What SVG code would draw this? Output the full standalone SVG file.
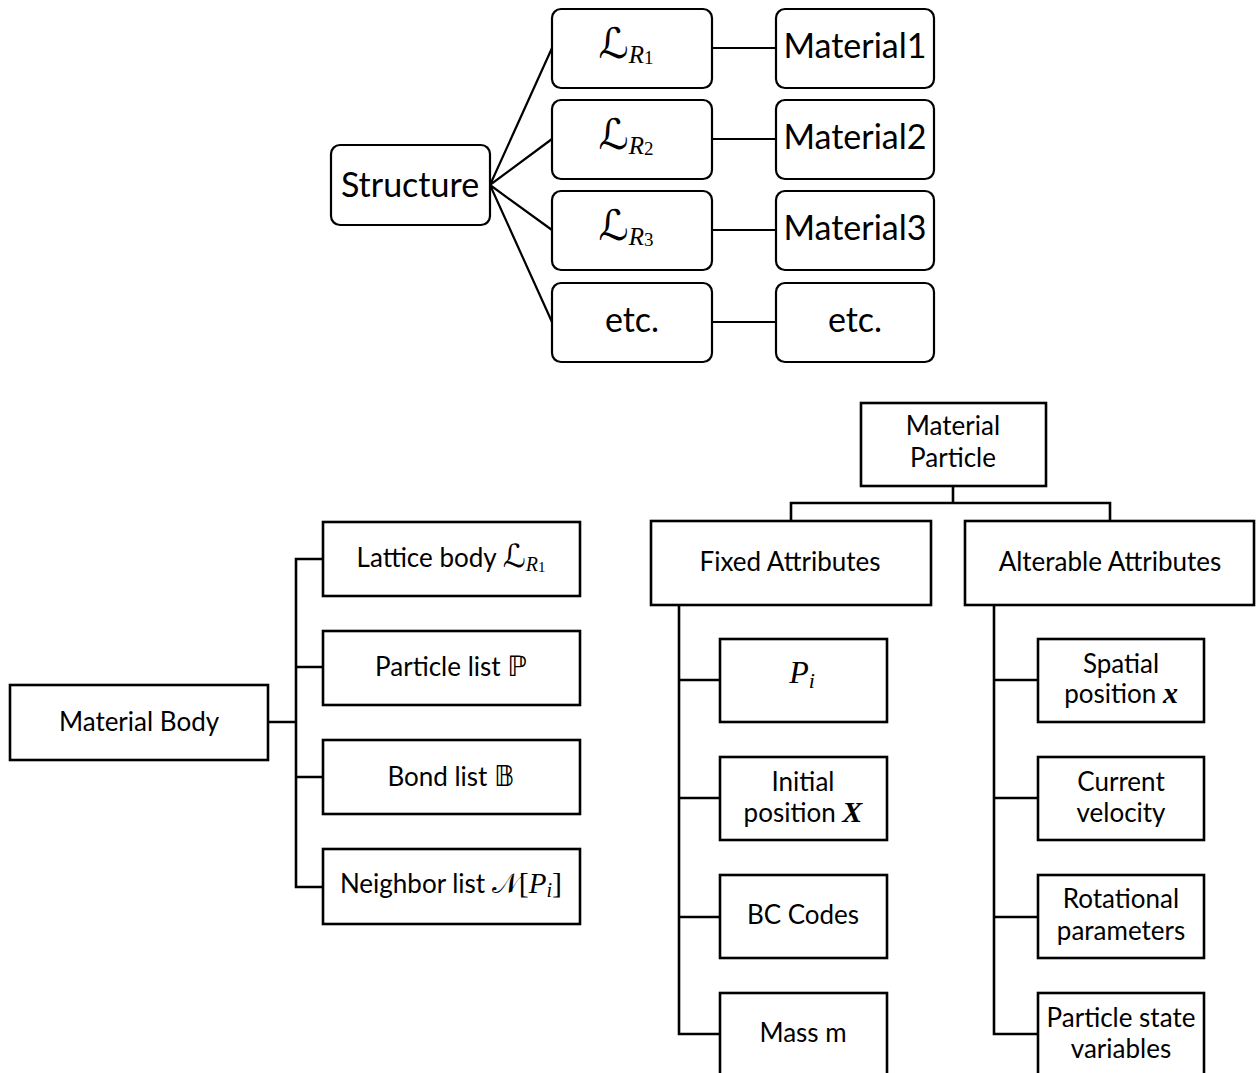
<svg xmlns="http://www.w3.org/2000/svg" width="1256" height="1073" viewBox="0 0 1256 1073">
  <style>
    .rbox { fill: #fff; stroke: #000; stroke-width: 2.2; }
    .box { fill: #fff; stroke: #000; stroke-width: 2.6; }
    .wire { fill: none; stroke: #000; stroke-width: 2.2; stroke-linecap: square; }
    .wire2 { fill: none; stroke: #000; stroke-width: 2.6; stroke-linecap: square; }
    .big { font-family: Lato, "Liberation Sans", sans-serif; font-size: 34px; fill: #000; text-anchor: middle; }
    .txt { font-family: Lato, "Liberation Sans", sans-serif; font-size: 26px; fill: #000; text-anchor: middle; }
    .scr { font-family: "DejaVu Serif", "DejaVu Sans", serif; }
    .mi { font-family: "Liberation Serif", "DejaVu Serif", serif; font-style: italic; }
    .mn { font-family: "Liberation Serif", "DejaVu Serif", serif; }
    .mb { font-family: "Liberation Serif", "DejaVu Serif", serif; font-style: italic; font-weight: bold; }
    .ds { font-family: "DejaVu Sans", "DejaVu Serif", sans-serif; }
  </style>
  <rect width="1256" height="1073" fill="#fff"/>

  <!-- connectors -->
  <g id="connectors">
    <!-- structure fan-out -->
    <path class="wire" d="M490,185 L552,48 M490,185 L552,139 M490,185 L552,230 M490,185 L552,322"/>
    <!-- lattice to material -->
    <path class="wire" d="M712,48 H776 M712,139 H776 M712,230 H776 M712,322 H776"/>
    <!-- material body tree -->
    <path class="wire2" d="M268,722 H296 M296,559 V887 M296,559 H323 M296,667 H323 M296,777 H323 M296,887 H323"/>
    <!-- material particle tree -->
    <path class="wire2" d="M953,486 V503 M791,503 H1110 M791,503 V521 M1110,503 V521"/>
    <path class="wire2" d="M679,605 V1034 M679,680 H720 M679,798 H720 M679,917 H720 M679,1034 H720"/>
    <path class="wire2" d="M994,605 V1034 M994,680 H1038 M994,798 H1038 M994,917 H1038 M994,1034 H1038"/>
  </g>

  <!-- upper hierarchy -->
  <g id="structure">
    <rect class="rbox" x="331" y="145" width="159" height="80" rx="9"/>
    <text class="big" x="410" y="197">Structure</text>
  </g>
  <g id="lattice-r1">
    <rect class="rbox" x="552" y="9" width="160" height="79" rx="9"/>
    <text class="big" x="626" y="58"><tspan class="scr" font-size="42">ℒ</tspan><tspan class="mi" font-size="25" dy="5">R</tspan><tspan class="mn" font-size="19" dy="1">1</tspan></text>
  </g>
  <g id="lattice-r2">
    <rect class="rbox" x="552" y="100" width="160" height="79" rx="9"/>
    <text class="big" x="626" y="149"><tspan class="scr" font-size="42">ℒ</tspan><tspan class="mi" font-size="25" dy="5">R</tspan><tspan class="mn" font-size="19" dy="1">2</tspan></text>
  </g>
  <g id="lattice-r3">
    <rect class="rbox" x="552" y="191" width="160" height="79" rx="9"/>
    <text class="big" x="626" y="240"><tspan class="scr" font-size="42">ℒ</tspan><tspan class="mi" font-size="25" dy="5">R</tspan><tspan class="mn" font-size="19" dy="1">3</tspan></text>
  </g>
  <g id="lattice-etc">
    <rect class="rbox" x="552" y="283" width="160" height="79" rx="9"/>
    <text class="big" x="632" y="332">etc.</text>
  </g>
  <g id="material1">
    <rect class="rbox" x="776" y="9" width="158" height="79" rx="9"/>
    <text class="big" x="855" y="58">Material1</text>
  </g>
  <g id="material2">
    <rect class="rbox" x="776" y="100" width="158" height="79" rx="9"/>
    <text class="big" x="855" y="149">Material2</text>
  </g>
  <g id="material3">
    <rect class="rbox" x="776" y="191" width="158" height="79" rx="9"/>
    <text class="big" x="855" y="240">Material3</text>
  </g>
  <g id="material-etc">
    <rect class="rbox" x="776" y="283" width="158" height="79" rx="9"/>
    <text class="big" x="855" y="332">etc.</text>
  </g>

  <!-- material body -->
  <g id="material-body">
    <rect class="box" x="10" y="685" width="258" height="75"/>
    <text class="txt" x="139" y="731">Material Body</text>
  </g>
  <g id="lattice-body">
    <rect class="box" x="323" y="522" width="257" height="74"/>
    <text class="txt" x="451" y="567">Lattice body <tspan class="scr" font-size="32">ℒ</tspan><tspan class="mi" font-size="20" dy="4">R</tspan><tspan class="mn" font-size="15" dy="1">1</tspan></text>
  </g>
  <g id="particle-list">
    <rect class="box" x="323" y="631" width="257" height="74"/>
    <text class="txt" x="451" y="676">Particle list <tspan class="ds" font-size="28">ℙ</tspan></text>
  </g>
  <g id="bond-list">
    <rect class="box" x="323" y="740" width="257" height="74"/>
    <text class="txt" x="451" y="786">Bond list <tspan class="ds" font-size="28">𝔹</tspan></text>
  </g>
  <g id="neighbor-list">
    <rect class="box" x="323" y="849" width="257" height="75"/>
    <text class="txt" x="451" y="893">Neighbor list <tspan class="scr" font-size="28">𝒩</tspan><tspan class="mn" font-size="30">[</tspan><tspan class="mi" font-size="29">P</tspan><tspan class="mi" font-size="20" dy="4">i</tspan><tspan class="mn" font-size="30" dy="-4">]</tspan></text>
  </g>

  <!-- material particle -->
  <g id="material-particle">
    <rect class="box" x="861" y="403" width="185" height="83"/>
    <text class="txt" x="953" y="435">Material</text>
    <text class="txt" x="953" y="467">Particle</text>
  </g>
  <g id="fixed-attributes">
    <rect class="box" x="651" y="521" width="280" height="84"/>
    <text class="txt" x="790" y="571">Fixed Attributes</text>
  </g>
  <g id="alterable-attributes">
    <rect class="box" x="965" y="521" width="289" height="84"/>
    <text class="txt" x="1110" y="571">Alterable Attributes</text>
  </g>

  <g id="p-i">
    <rect class="box" x="720" y="639" width="167" height="83"/>
    <text class="txt" x="802" y="683"><tspan class="mi" font-size="32">P</tspan><tspan class="mi" font-size="22" dy="5">i</tspan></text>
  </g>
  <g id="initial-position">
    <rect class="box" x="720" y="757" width="167" height="83"/>
    <text class="txt" x="803" y="791">Initial</text>
    <text class="txt" x="803" y="822">position <tspan class="mb" font-size="30">X</tspan></text>
  </g>
  <g id="bc-codes">
    <rect class="box" x="720" y="875" width="167" height="83"/>
    <text class="txt" x="803" y="924">BC Codes</text>
  </g>
  <g id="mass">
    <rect class="box" x="720" y="993" width="167" height="90"/>
    <text class="txt" x="803" y="1042">Mass m</text>
  </g>

  <g id="spatial-position">
    <rect class="box" x="1038" y="639" width="166" height="83"/>
    <text class="txt" x="1121" y="673">Spatial</text>
    <text class="txt" x="1121" y="703">position <tspan class="mb" font-size="30">x</tspan></text>
  </g>
  <g id="current-velocity">
    <rect class="box" x="1038" y="757" width="166" height="83"/>
    <text class="txt" x="1121" y="791">Current</text>
    <text class="txt" x="1121" y="822">velocity</text>
  </g>
  <g id="rotational-parameters">
    <rect class="box" x="1038" y="875" width="166" height="83"/>
    <text class="txt" x="1121" y="908">Rotational</text>
    <text class="txt" x="1121" y="940">parameters</text>
  </g>
  <g id="particle-state">
    <rect class="box" x="1038" y="993" width="166" height="90"/>
    <text class="txt" x="1121" y="1027">Particle state</text>
    <text class="txt" x="1121" y="1058">variables</text>
  </g>
</svg>
